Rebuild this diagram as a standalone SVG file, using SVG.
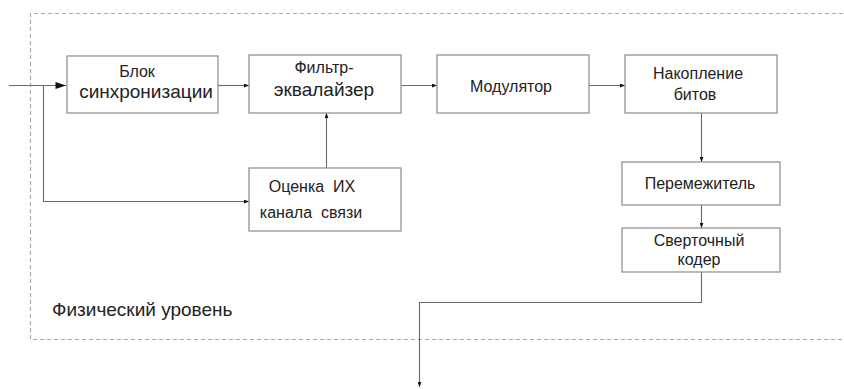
<svg xmlns="http://www.w3.org/2000/svg" width="844" height="389" viewBox="0 0 844 389">
<style>
.box{fill:#fff;stroke:#8a8a8a;stroke-width:1.2}
.t{font-family:"Liberation Sans",Arial,sans-serif;fill:#222;text-anchor:middle}
.s{font-size:16px}
.b{font-size:19px}
.c{fill:none;stroke:#6a6a6a;stroke-width:1.1}
.frame{fill:none;stroke:#a8a8a8;stroke-width:1.2;stroke-dasharray:4,3}
</style>
<defs>
<marker id="a" viewBox="0 0 8 6" refX="8" refY="3" markerWidth="5" markerHeight="4" markerUnits="userSpaceOnUse" orient="auto"><path d="M0,0L8,3L0,6z" fill="#111"/></marker>
<marker id="big" viewBox="0 0 12 8" refX="12" refY="4" markerWidth="12" markerHeight="7" markerUnits="userSpaceOnUse" orient="auto"><path d="M0,0L12,4L0,8z" fill="#111"/></marker>
</defs>
<g id="frame">
<path class="frame" d="M850,13.5H30.5V339.5H850"/>
<text class="t b" x="52" y="316" style="text-anchor:start">Физический уровень</text>
</g>
<g id="connectors">
<path class="c" d="M9,85.5H66" marker-end="url(#big)"/>
<path class="c" d="M43.5,85.5V201.5H249" marker-end="url(#a)"/>
<path class="c" d="M218,85.5H249" marker-end="url(#a)"/>
<path class="c" d="M326.5,168V113" marker-end="url(#a)"/>
<path class="c" d="M401,85.5H437" marker-end="url(#a)"/>
<path class="c" d="M589,85.5H625" marker-end="url(#a)"/>
<path class="c" d="M701.5,113V162" marker-end="url(#a)"/>
<path class="c" d="M701.5,205V228" marker-end="url(#a)"/>
<path class="c" d="M701.5,272V302.5H419.5V387" marker-end="url(#a)"/>
</g>
<g id="sync">
<rect class="box" x="67" y="56" width="151" height="57"/>
<text class="t s" x="137" y="77">Блок</text>
<text class="t b" x="146" y="98">синхронизации</text>
</g>
<g id="filter">
<rect class="box" x="249" y="55" width="152" height="58"/>
<text class="t s" x="324" y="73">Фильтр-</text>
<text class="t b" x="324" y="96">эквалайзер</text>
</g>
<g id="modulator">
<rect class="box" x="437" y="55" width="152" height="58"/>
<text class="t s" x="511" y="92">Модулятор</text>
</g>
<g id="accum">
<rect class="box" x="625" y="55" width="152" height="58"/>
<text class="t s" x="698" y="79">Накопление</text>
<text class="t s" x="695" y="100">битов</text>
</g>
<g id="estimate">
<rect class="box" x="249" y="168" width="152" height="63"/>
<text class="t s" x="312" y="192" xml:space="preserve">Оценка  ИХ</text>
<text class="t s" x="311" y="218" xml:space="preserve">канала  связи</text>
</g>
<g id="interleaver">
<rect class="box" x="622" y="162" width="158" height="43"/>
<text class="t s" x="700" y="189">Перемежитель</text>
</g>
<g id="coder">
<rect class="box" x="622" y="228" width="158" height="44"/>
<text class="t s" x="699" y="246">Сверточный</text>
<text class="t s" x="699" y="265">кодер</text>
</g>
</svg>
